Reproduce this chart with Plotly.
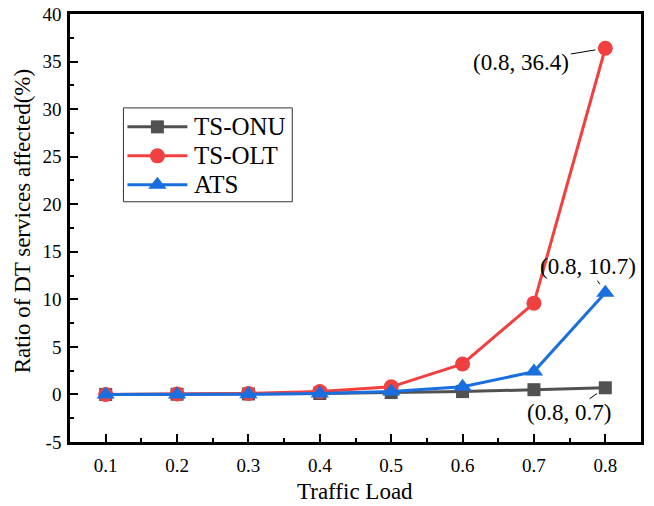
import plotly.graph_objects as go

# Traffic load levels and ratio of DT services affected (%)
traffic_load = [0.1, 0.2, 0.3, 0.4, 0.5, 0.6, 0.7, 0.8]
ts_onu = [0.0, 0.02, 0.05, 0.1, 0.2, 0.3, 0.5, 0.7]
ts_olt = [0.0, 0.05, 0.1, 0.3, 0.8, 3.2, 9.6, 36.4]
ats = [0.0, 0.0, 0.02, 0.1, 0.3, 0.8, 2.4, 10.7]

series_names = ["TS-ONU", "TS-OLT", "ATS"]
series_colors = ["#515151", "#F14040", "#1A6FDF"]
series_symbols = ["square", "circle", "triangle-up"]
series_sizes = [13, 15, 16]
series_values = [ts_onu, ts_olt, ats]

x_ticks = [0.1, 0.2, 0.3, 0.4, 0.5, 0.6, 0.7, 0.8]
y_ticks = [-5, 0, 5, 10, 15, 20, 25, 30, 35, 40]

FONT = "Liberation Serif"

fig = go.Figure()

for name, vals, col, sym, sz in zip(series_names, series_values, series_colors,
                                    series_symbols, series_sizes):
    fig.add_trace(go.Scatter(
        x=traffic_load, y=vals, name=name, mode="lines+markers",
        line=dict(color=col, width=3),
        marker=dict(symbol=sym, size=sz, color=col, line=dict(width=0)),
        showlegend=False,
    ))

# Legend drawn on an overlay axis spanning the plot area (0..1)
leg_rows = [0.7363, 0.6686, 0.6009]
leg_x0, leg_x1, leg_xm = 0.1006, 0.2056, 0.1531
for name, col, sym, sz, ry in zip(series_names, series_colors, series_symbols,
                                  series_sizes, leg_rows):
    fig.add_trace(go.Scatter(
        x=[leg_x0, leg_x1], y=[ry, ry], mode="lines",
        line=dict(color=col, width=3),
        xaxis="x2", yaxis="y2", showlegend=False, hoverinfo="skip",
    ))
    fig.add_trace(go.Scatter(
        x=[leg_xm], y=[ry], mode="markers",
        marker=dict(symbol=sym, size=sz, color=col, line=dict(width=0)),
        xaxis="x2", yaxis="y2", showlegend=False, hoverinfo="skip",
    ))
    fig.add_annotation(
        x=0.214, y=ry, xref="paper", yref="paper", text=name,
        showarrow=False, xanchor="left", yanchor="middle",
        font=dict(family=FONT, size=25, color="black"),
    )

fig.add_shape(type="rect", xref="paper", yref="paper", layer="below",
              x0=0.0936, x1=0.3893, y0=0.5613, y1=0.7806,
              line=dict(color="#333333", width=1))

# Value callouts at the last load point
callouts = [
    (traffic_load[-1], ts_olt[-1], -84, 14),
    (traffic_load[-1], ats[-1], -17, -26),
    (traffic_load[-1], ts_onu[-1], -36, 25),
]
for cx, cy, ax, ay in callouts:
    fig.add_annotation(
        x=cx, y=cy, text=f"({cx}, {cy})", showarrow=True, arrowhead=0,
        arrowwidth=1, arrowcolor="black", ax=ax, ay=ay, standoff=10,
        font=dict(family=FONT, size=23, color="black"),
    )

# Axis titles
fig.add_annotation(
    x=0.4996, y=-0.1155, xref="paper", yref="paper", text="Traffic Load",
    showarrow=False, xanchor="center", yanchor="middle",
    font=dict(family=FONT, size=23, color="black"),
)
fig.add_annotation(
    x=-0.0831, y=0.5146, xref="paper", yref="paper",
    text="Ratio of DT services affected(%)", textangle=-90,
    showarrow=False, xanchor="center", yanchor="middle",
    font=dict(family=FONT, size=23, color="black"),
)

axis_common = dict(
    showline=True, linecolor="black", linewidth=2.5, mirror=True,
    ticks="inside", ticklen=8, tickwidth=2, tickcolor="black",
    showgrid=False, zeroline=False, automargin=False,
    tickfont=dict(family=FONT, size=19, color="black"),
)

fig.update_layout(
    width=654, height=506,
    margin=dict(l=69.5, r=13, t=14, b=63.5),
    paper_bgcolor="white", plot_bgcolor="white",
    font=dict(family=FONT, color="black"),
    xaxis=dict(
        range=[0.05, 0.85], tickvals=x_ticks,
        ticktext=[str(v) for v in x_ticks],
        minor=dict(ticks="inside", ticklen=4, tickwidth=2, dtick=0.05,
                   tick0=0.05, tickcolor="black"),
        ticklabelstandoff=4,
        **axis_common,
    ),
    yaxis=dict(
        range=[-5, 40], tickvals=y_ticks,
        ticktext=[str(v) for v in y_ticks],
        minor=dict(ticks="inside", ticklen=4, tickwidth=2, dtick=2.5,
                   tick0=0, tickcolor="black"),
        ticklabelstandoff=2,
        **axis_common,
    ),
    xaxis2=dict(overlaying="x", range=[0, 1], visible=False, fixedrange=True),
    yaxis2=dict(overlaying="y", range=[0, 1], visible=False, fixedrange=True),
    showlegend=False,
)

fig.write_html("out.html")
